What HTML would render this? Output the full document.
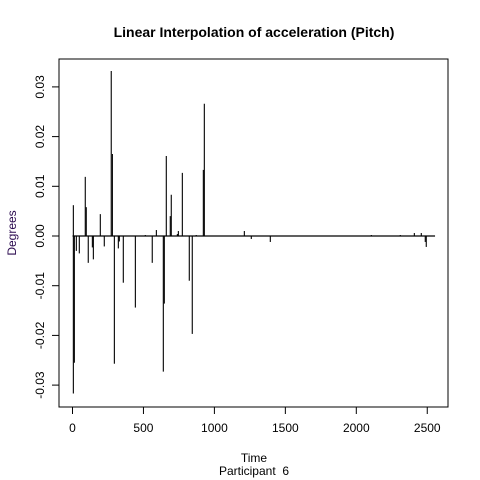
<!DOCTYPE html>
<html><head><meta charset="utf-8"><style>
body{margin:0;background:#fff}
svg{display:block;font-family:"Liberation Sans",Arial,sans-serif}
</style></head><body>
<svg id="chart" width="480" height="480" viewBox="0 0 480 480">
<text x="254" y="37" text-anchor="middle" font-weight="bold" font-size="14">Linear Interpolation of acceleration (Pitch)</text>
<rect x="59" y="59" width="389" height="348" fill="none" stroke="#000"/>
<text x="254" y="462" text-anchor="middle" font-size="12">Time</text>
<text x="254" y="475" text-anchor="middle" font-size="12">Participant&#160; 6</text>
<text transform="translate(16,233) rotate(-90)" text-anchor="middle" font-size="12" fill="#2b0a4f">Degrees</text>
<g id="xaxis"></g>
<g id="yaxis"></g>
<g id="marks"></g>
</svg>
<script>
const times = [6,6,13,27,48,90,97,111,140,147,196,224,273,281,295,323,330,358,443,513,562,591,640,647,661,689,696,739,746,774,823,844,872,922,929,1211,1260,1394,2106,2310,2409,2458,2486,2493];
const values = [0.0062,-0.0317,-0.0255,-0.003,-0.0035,0.0119,0.0058,-0.0054,-0.0023,-0.0047,0.0044,-0.0021,0.0332,0.0165,-0.0257,-0.0025,-0.0011,-0.0094,-0.0144,0.0002,-0.0054,0.0012,-0.0273,-0.0136,0.0161,0.004,0.0083,0.0004,0.001,0.0127,-0.009,-0.0197,0.0002,0.0133,0.0266,0.001,-0.0006,-0.0012,0.0002,0.0002,0.0006,0.0006,-0.0012,-0.0022];
const xTicks = [0,500,1000,1500,2000,2500];
const yTicks = [-0.03,-0.02,-0.01,0,0.01,0.02,0.03];
const yTickLabels = ["-0.03","-0.02","-0.01","0.00","0.01","0.02","0.03"];
const timeRange = [0,2555];
const NS="http://www.w3.org/2000/svg";
const xs = t => 72.5 + t*0.1419;
const ys = v => 236 - v*4970;
function mk(tag, attrs, parent){const e=document.createElementNS(NS,tag);for(const k in attrs)e.setAttribute(k,attrs[k]);parent.appendChild(e);return e;}
const xa=document.getElementById('xaxis'), ya=document.getElementById('yaxis'), mg=document.getElementById('marks');
mk('line',{x1:xs(xTicks[0]),x2:xs(xTicks[xTicks.length-1]),y1:407,y2:407,stroke:'#000'},xa);
xTicks.forEach(t=>{
  const l=mk('line',{x1:xs(t),x2:xs(t),y1:407,y2:414,stroke:'#000'},xa);
  
  
  const tx=mk('text',{x:xs(t),y:432,'text-anchor':'middle','font-size':12},xa);
  tx.textContent=t;
  
  
});
mk('line',{x1:59,x2:59,y1:ys(yTicks[0]),y2:ys(yTicks[yTicks.length-1]),stroke:'#000'},ya);
yTicks.forEach((v,i)=>{
  const l=mk('line',{x1:52,x2:59,y1:ys(v),y2:ys(v),stroke:'#000'},ya);
  
  
  const tx=mk('text',{transform:`translate(44,${ys(v)}) rotate(-90)`,'text-anchor':'middle','font-size':12},ya);
  tx.textContent=yTickLabels[i];
  
  
});
const zl=mk('line',{x1:xs(timeRange[0]),x2:xs(timeRange[1]),y1:ys(0),y2:ys(0),stroke:'#000','stroke-width':1.2},mg);


times.forEach((t,i)=>{
  const l=mk('line',{x1:xs(t),x2:xs(t),y1:ys(0),y2:ys(values[i]),stroke:'#000','stroke-width':1.1},mg);
  
  
});
</script>
</body></html>
